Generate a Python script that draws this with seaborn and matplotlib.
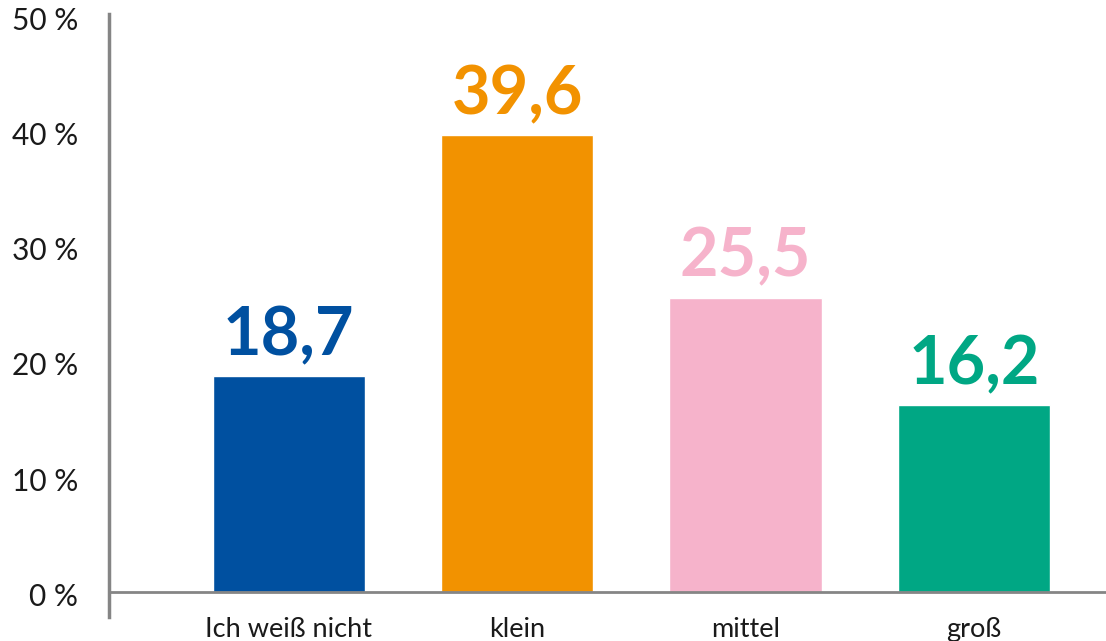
import matplotlib
matplotlib.use('Agg')
import matplotlib.pyplot as plt
import matplotlib.transforms as mtransforms
import seaborn as sns
import pandas as pd

# data
kategorien = ['Ich weiß nicht', 'klein', 'mittel', 'groß']
anteile = [18.7, 39.6, 25.5, 16.2]
farben = ['#0050A0', '#F29200', '#F6B3CB', '#00A784']
yticks = [0, 10, 20, 30, 40, 50]
ytick_labels = ['0 %', '10 %', '20 %', '30 %', '40 %', '50 %']

sns.set_theme(style='white')
plt.rcParams['font.family'] = ['Lato', 'DejaVu Sans']

df = pd.DataFrame({'kategorie': kategorien, 'anteil': anteile})

fig = plt.figure(figsize=(11.06, 6.41), dpi=100)
ax = fig.add_axes([108.5 / 1106, 24 / 641, (1106 - 108.5) / 1106, 603 / 641])

sns.barplot(data=df, x='kategorie', y='anteil', hue='kategorie',
            palette=farben, width=0.666, legend=False, saturation=1, ax=ax)

grau = '#858585'
ax.axhline(0, color=grau, lw=2, zorder=3)

for i, (wert, farbe) in enumerate(zip(anteile, farben)):
    ax.annotate(f'{wert:.1f}'.replace('.', ','), (i, wert),
                xytext=(0, 15), textcoords='offset points',
                ha='center', va='baseline', fontsize=48, fontweight='bold',
                color=farbe)

ax.set_xlim(-0.789, 3.578)
ax.set_ylim(-2.21, 50.09)
ax.set_yticks(yticks)
ax.set_yticklabels(ytick_labels, fontsize=21.5, color='#1a1a1a')
ax.tick_params(axis='y', length=0, pad=22)
ax.tick_params(axis='x', length=0, pad=0, labelsize=19.5, labelcolor='#1a1a1a')
# Beschriftungen minimal nach unten wie im Original
versatz = mtransforms.ScaledTranslation(0, -3 / 100, fig.dpi_scale_trans)
for lbl in ax.get_yticklabels():
    lbl.set_transform(lbl.get_transform() + versatz)
ax.set_xlabel('')
ax.set_ylabel('')

for side in ['top', 'right', 'bottom']:
    ax.spines[side].set_visible(False)
ax.spines['left'].set_color(grau)
ax.spines['left'].set_linewidth(2.5)

fig.savefig('out.png', dpi=100)
